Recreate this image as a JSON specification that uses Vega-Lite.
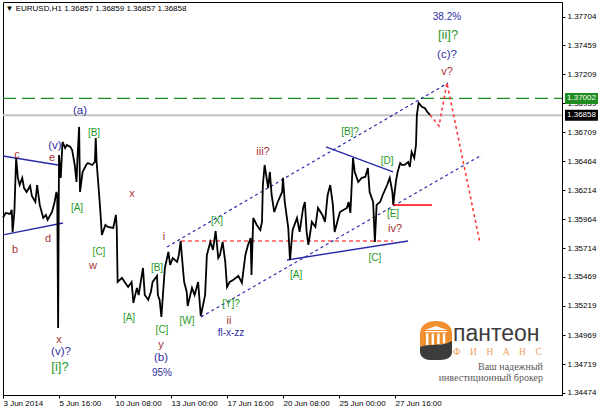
{
  "$schema": "https://vega.github.io/schema/vega-lite/v6.json",
  "width": 559,
  "height": 393,
  "autosize": {"type": "none"},
  "padding": {"left": 3, "top": 2, "right": 38, "bottom": 16},
  "background": "white",
  "config": {"view": {"stroke": "#000", "strokeWidth": 1}, "font": "Liberation Sans"},
  "datasets": {
    "price": [
      {"b":0,"p":1.35975},{"b":3,"p":1.36018},{"b":8,"p":1.36009},{"b":10,"p":1.36044},{"b":11,"p":1.35855},{"b":13,"p":1.36026},{"b":15,"p":1.3649},{"b":17,"p":1.36319},{"b":19,"p":1.36258},{"b":22,"p":1.36319},{"b":24,"p":1.36233},{"b":27,"p":1.36198},{"b":31,"p":1.3625},{"b":33,"p":1.36164},{"b":37,"p":1.36112},{"b":39,"p":1.36258},{"b":42,"p":1.36087},{"b":46,"p":1.35975},{"b":49,"p":1.36001},{"b":51,"p":1.35958},{"b":56,"p":1.36026},{"b":59,"p":1.36112},{"b":61,"p":1.36198},{"b":62,"p":1.36164},{"b":63,"p":1.3503},{"b":64,"p":1.36516},{"b":66,"p":1.36319},{"b":68,"p":1.36628},{"b":71,"p":1.36576},{"b":73,"p":1.36602},{"b":77,"p":1.36585},{"b":79,"p":1.36559},{"b":82,"p":1.3643},{"b":84,"p":1.36284},{"b":85,"p":1.36473},{"b":87,"p":1.36757},{"b":88,"p":1.36198},{"b":91,"p":1.3637},{"b":95,"p":1.3643},{"b":97,"p":1.36447},{"b":102,"p":1.3643},{"b":105,"p":1.36456},{"b":106,"p":1.36662},{"b":107,"p":1.36456},{"b":111,"p":1.36061},{"b":113,"p":1.35829},{"b":117,"p":1.35915},{"b":120,"p":1.35898},{"b":126,"p":1.35889},{"b":129,"p":1.36001},{"b":130,"p":1.35889},{"b":131,"p":1.35425},{"b":136,"p":1.3546},{"b":139,"p":1.35425},{"b":143,"p":1.35382},{"b":147,"p":1.35425},{"b":149,"p":1.35245},{"b":153,"p":1.35374},{"b":155,"p":1.35313},{"b":160,"p":1.35545},{"b":162,"p":1.35313},{"b":166,"p":1.35271},{"b":169,"p":1.35339},{"b":171,"p":1.35425},{"b":176,"p":1.35477},{"b":177,"p":1.35313},{"b":179,"p":1.35271},{"b":181,"p":1.35125},{"b":183,"p":1.35339},{"b":185,"p":1.35545},{"b":189,"p":1.35683},{"b":191,"p":1.35571},{"b":194,"p":1.35631},{"b":199,"p":1.35597},{"b":201,"p":1.35657},{"b":203,"p":1.35777},{"b":205,"p":1.35597},{"b":207,"p":1.35425},{"b":210,"p":1.35339},{"b":211,"p":1.35219},{"b":216,"p":1.35374},{"b":219,"p":1.35313},{"b":223,"p":1.35425},{"b":226,"p":1.35133},{"b":231,"p":1.35313},{"b":233,"p":1.35657},{"b":237,"p":1.35769},{"b":240,"p":1.357},{"b":243,"p":1.35863},{"b":246,"p":1.35631},{"b":248,"p":1.35657},{"b":251,"p":1.35769},{"b":254,"p":1.35597},{"b":256,"p":1.35382},{"b":259,"p":1.35425},{"b":263,"p":1.35442},{"b":269,"p":1.35477},{"b":273,"p":1.35417},{"b":277,"p":1.35657},{"b":280,"p":1.35743},{"b":283,"p":1.35803},{"b":284,"p":1.35485},{"b":286,"p":1.35975},{"b":290,"p":1.35915},{"b":294,"p":1.35872},{"b":296,"p":1.35941},{"b":297,"p":1.36258},{"b":299,"p":1.3643},{"b":303,"p":1.36233},{"b":305,"p":1.3637},{"b":307,"p":1.36172},{"b":310,"p":1.36026},{"b":314,"p":1.36112},{"b":319,"p":1.36198},{"b":320,"p":1.36319},{"b":322,"p":1.36112},{"b":326,"p":1.35889},{"b":328,"p":1.35614},{"b":331,"p":1.35872},{"b":336,"p":1.35975},{"b":339,"p":1.35855},{"b":343,"p":1.36061},{"b":345,"p":1.36112},{"b":347,"p":1.35855},{"b":349,"p":1.35743},{"b":353,"p":1.35941},{"b":357,"p":1.35898},{"b":360,"p":1.36061},{"b":365,"p":1.36001},{"b":368,"p":1.35941},{"b":371,"p":1.36172},{"b":374,"p":1.36258},{"b":377,"p":1.36087},{"b":379,"p":1.35855},{"b":382,"p":1.35941},{"b":385,"p":1.36026},{"b":389,"p":1.36044},{"b":393,"p":1.36061},{"b":395,"p":1.36112},{"b":397,"p":1.36018},{"b":400,"p":1.3649},{"b":402,"p":1.3637},{"b":406,"p":1.36284},{"b":410,"p":1.36319},{"b":414,"p":1.36327},{"b":417,"p":1.36404},{"b":419,"p":1.36198},{"b":423,"p":1.36112},{"b":425,"p":1.35769},{"b":427,"p":1.36087},{"b":431,"p":1.36112},{"b":434,"p":1.36172},{"b":439,"p":1.36258},{"b":442,"p":1.36319},{"b":445,"p":1.36198},{"b":446,"p":1.36087},{"b":449,"p":1.36284},{"b":451,"p":1.3637},{"b":454,"p":1.36447},{"b":456,"p":1.3643},{"b":459,"p":1.3643},{"b":463,"p":1.36456},{"b":465,"p":1.36413},{"b":467,"p":1.36542},{"b":470,"p":1.3649},{"b":472,"p":1.36602},{"b":473,"p":1.3686},{"b":475,"p":1.36963},{"b":479,"p":1.36928},{"b":482,"p":1.3692},{"b":485,"p":1.36885},{"b":488,"p":1.3686}
    ],
    "trend": [
      {"id":"t1","b":0,"p":1.36507},{"id":"t1","b":62.9,"p":1.3643},
      {"id":"t2","b":0,"p":1.35829},{"id":"t2","b":68.6,"p":1.35932},
      {"id":"t3","b":369.1,"p":1.36585},{"id":"t3","b":445.7,"p":1.3637},
      {"id":"t4","b":324.6,"p":1.35614},{"id":"t4","b":462.9,"p":1.35777}
    ],
    "channel": [
      {"id":"c1","b":187.4,"p":1.35726},{"id":"c1","b":508.6,"p":1.37135},
      {"id":"c2","b":226.3,"p":1.35125},{"id":"c2","b":547.4,"p":1.36516}
    ],
    "labels": [
      {"t":"(a)","b":88.0,"p":1.36894,"d":"minute"},
      {"t":"[B]","b":104.0,"p":1.36705,"d":"sub"},
      {"t":"(v)","b":59.4,"p":1.36593,"d":"minute"},
      {"t":"c","b":16.0,"p":1.36516,"d":"minuette"},
      {"t":"e","b":56.0,"p":1.3649,"d":"minuette"},
      {"t":"[A]","b":84.6,"p":1.36061,"d":"sub"},
      {"t":"x","b":147.4,"p":1.36181,"d":"minuette"},
      {"t":"b","b":13.7,"p":1.357,"d":"minuette"},
      {"t":"d","b":51.4,"p":1.35795,"d":"minuette"},
      {"t":"[C]","b":109.7,"p":1.35683,"d":"sub"},
      {"t":"w","b":102.9,"p":1.35563,"d":"minuette"},
      {"t":"[A]","b":144.0,"p":1.35116,"d":"sub"},
      {"t":"x","b":64.0,"p":1.34927,"d":"minuette"},
      {"t":"(v)?","b":66.3,"p":1.34824,"d":"minute"},
      {"t":"[i]?","b":65.1,"p":1.34695,"d":"minor"},
      {"t":"[B]","b":176.0,"p":1.35545,"d":"sub"},
      {"t":"[C]","b":181.7,"p":1.35013,"d":"sub"},
      {"t":"y","b":180.6,"p":1.34884,"d":"minuette"},
      {"t":"(b)","b":180.6,"p":1.34772,"d":"minute"},
      {"t":"95%","b":181.7,"p":1.34643,"d":"note"},
      {"t":"[W]","b":210.3,"p":1.3509,"d":"sub"},
      {"t":"i","b":184.0,"p":1.35812,"d":"minuette"},
      {"t":"[X]","b":244.6,"p":1.35949,"d":"sub"},
      {"t":"[Y]?","b":260.6,"p":1.35236,"d":"sub"},
      {"t":"ii","b":258.3,"p":1.3509,"d":"minuette"},
      {"t":"fl-x-zz","b":260.6,"p":1.34987,"d":"note"},
      {"t":"iii?","b":297.1,"p":1.36542,"d":"minuette"},
      {"t":"[A]","b":334.9,"p":1.35485,"d":"sub"},
      {"t":"[B]?","b":396.6,"p":1.36714,"d":"sub"},
      {"t":"[D]","b":438.9,"p":1.36465,"d":"sub"},
      {"t":"[E]","b":445.7,"p":1.36009,"d":"sub"},
      {"t":"iv?","b":448.0,"p":1.3588,"d":"minuette"},
      {"t":"[C]","b":425.1,"p":1.35631,"d":"sub"},
      {"t":"38.2%","b":507.4,"p":1.37701,"d":"note"},
      {"t":"[ii]?","b":508.6,"p":1.37547,"d":"minor"},
      {"t":"(c)?","b":507.4,"p":1.37375,"d":"minute"},
      {"t":"v?","b":507.4,"p":1.37229,"d":"minuette"}
    ]
  },
  "encoding": {
    "x": {
      "field": "b", "type": "quantitative",
      "scale": {"domain": [0, 638.857], "nice": false, "zero": false},
      "axis": {
        "orient": "bottom", "values": [0, 64, 128, 192, 256, 320, 384, 448],
        "labelExpr": "['3 Jun 2014','5 Jun 16:00','10 Jun 08:00','13 Jun 00:00','17 Jun 16:00','20 Jun 08:00','25 Jun 00:00','27 Jun 16:00'][round(datum.value/64)]",
        "labelAlign": "left", "labelDx": -1, "labelFlush": false, "labelOverlap": false,
        "labelFont": "Liberation Sans", "labelFontSize": 8, "labelColor": "#000", "labelPadding": 1,
        "tickSize": 3, "tickColor": "#000", "domainColor": "#000", "grid": false, "title": null
      }
    },
    "y": {
      "field": "p", "type": "quantitative",
      "scale": {"domain": [1.34454, 1.3783], "nice": false, "zero": false},
      "axis": {
        "orient": "right",
        "values": [1.37704, 1.37459, 1.37209, 1.36959, 1.36709, 1.36464, 1.36214, 1.35964, 1.35714, 1.35469, 1.35219, 1.34969, 1.34719, 1.34474],
        "format": ".5f", "labelFont": "Liberation Sans", "labelFontSize": 8, "labelColor": "#000",
        "labelPadding": 2, "tickSize": 3, "tickColor": "#000", "domainColor": "#000",
        "grid": false, "title": null, "labelOverlap": false, "labelFlush": false
      }
    }
  },
  "layer": [
    {
      "data": {"values": [{"b": 0, "p": 1.36858}, {"b": 638.857, "p": 1.36858}]},
      "mark": {"type": "line", "color": "#c4c4c4", "strokeWidth": 2}
    },
    {
      "data": {"values": [{"b": 0, "p": 1.37002}, {"b": 638.857, "p": 1.37002}]},
      "mark": {"type": "line", "color": "#1e8c1e", "strokeWidth": 1.3, "strokeDash": [13, 6]}
    },
    {
      "data": {"values": [{"b": 203.4, "p": 1.35777}, {"b": 445.7, "p": 1.35777}]},
      "mark": {"type": "line", "color": "#ff0000", "strokeWidth": 1.2, "strokeDash": [4, 3]}
    },
    {
      "data": {"name": "trend"},
      "mark": {"type": "line", "color": "#2a2aa8", "strokeWidth": 1.4},
      "encoding": {"detail": {"field": "id"}}
    },
    {
      "data": {"name": "channel"},
      "mark": {"type": "line", "color": "#2a2aa8", "strokeWidth": 1.2, "strokeDash": [3, 3]},
      "encoding": {"detail": {"field": "id"}}
    },
    {
      "data": {"name": "price"},
      "mark": {"type": "line", "color": "#000", "strokeWidth": 1.8, "strokeJoin": "miter"}
    },
    {
      "data": {"values": [{"b": 445.7, "p": 1.36087}, {"b": 490.3, "p": 1.36087}]},
      "mark": {"type": "line", "color": "#ff0000", "strokeWidth": 1.5}
    },
    {
      "data": {"values": [{"b": 488, "p": 1.3686}, {"b": 498.3, "p": 1.36765}, {"b": 507.4, "p": 1.37135}, {"b": 545.1, "p": 1.3576}]},
      "mark": {"type": "line", "color": "#ff3030", "strokeWidth": 1.5, "strokeDash": [3, 3]}
    },
    {
      "data": {"name": "labels"},
      "mark": {"type": "text", "align": "center", "baseline": "middle", "font": "Liberation Sans"},
      "encoding": {
        "text": {"field": "t"},
        "color": {"field": "d", "type": "nominal", "legend": null,
          "scale": {"domain": ["minor", "minute", "minuette", "sub", "note"], "range": ["#1f9a1f", "#2e2e9e", "#a83232", "#1f9a1f", "#2e2e9e"]}},
        "size": {"field": "d", "type": "nominal", "legend": null,
          "scale": {"type": "ordinal", "domain": ["minor", "minute", "minuette", "sub", "note"], "range": [13, 11.5, 11, 10, 10]}}
      }
    },
    {
      "data": {"values": [{"t": "▼ EURUSD,H1  1.36857 1.36859 1.36857 1.36858", "b": 2.9, "p": 1.3777}]},
      "mark": {"type": "text", "align": "left", "baseline": "middle", "font": "Liberation Sans", "fontSize": 8, "color": "#000"},
      "encoding": {"text": {"field": "t"}}
    },
    {
      "data": {"values": [{"b": 494.9, "p": 1.34927}]},
      "mark": {"type": "point", "shape": "M-0.8,0.35 L-0.8,-0.3 C-0.8,-0.75 -0.45,-0.95 0,-0.95 C0.45,-0.95 0.8,-0.75 0.8,-0.3 L0.8,0.15 Z", "filled": true, "color": "#ef8f2f", "size": 1600, "strokeWidth": 0, "opacity": 1}
    },
    {
      "data": {"values": [{"b": 494.9, "p": 1.34927}]},
      "mark": {"type": "point", "shape": "M-0.55,-0.5 L0,-0.7 L0.55,-0.5 Z M-0.55,-0.45 H0.55 V-0.38 H-0.55 Z M-0.5,-0.32 H-0.38 V0.28 H-0.5 Z M-0.22,-0.32 H-0.1 V0.24 H-0.22 Z M0.06,-0.32 H0.18 V0.2 H0.06 Z M0.34,-0.32 H0.46 V0.16 H0.34 Z", "filled": true, "color": "#ffffff", "size": 1600, "strokeWidth": 0, "opacity": 1}
    },
    {
      "data": {"values": [{"b": 494.9, "p": 1.34927}]},
      "mark": {"type": "point", "shape": "M-0.8,0.35 C-0.3,0.15 0.3,0.35 0.8,0.05 L0.8,0.6 C0.8,0.85 0.55,1 0.2,1 L-0.3,1 C-0.6,1 -0.8,0.8 -0.8,0.6 Z", "filled": true, "color": "#3c3c3c", "size": 1600, "strokeWidth": 0, "opacity": 1}
    },
    {
      "data": {"values": [{"t": "пантеон", "b": 514.3, "p": 1.34915}]},
      "mark": {"type": "text", "align": "left", "baseline": "alphabetic", "font": "Liberation Sans", "fontSize": 23, "color": "#3c3c3c"},
      "encoding": {"text": {"field": "t"}}
    },
    {
      "data": {"values": [{"t": "Ф\u00a0\u00a0\u00a0\u00a0И\u00a0\u00a0\u00a0\u00a0Н\u00a0\u00a0\u00a0\u00a0А\u00a0\u00a0\u00a0\u00a0Н\u00a0\u00a0\u00a0\u00a0С", "b": 514.3, "p": 1.34822}]},
      "mark": {"type": "text", "align": "left", "baseline": "middle", "font": "Liberation Serif", "fontSize": 9.5, "color": "#f0a060"},
      "encoding": {"text": {"field": "t"}}
    },
    {
      "data": {"values": [{"t": "Ваш надежный", "b": 617.1, "p": 1.34695}, {"t": "инвестиционный брокер", "b": 617.1, "p": 1.34601}]},
      "mark": {"type": "text", "align": "right", "baseline": "middle", "font": "Liberation Serif", "fontSize": 10, "color": "#5a5a5a"},
      "encoding": {"text": {"field": "t"}}
    },
    {
      "data": {"values": [{"t": "1.37002", "b": 661.1, "p": 1.37002}]},
      "mark": {"type": "point", "shape": "M-1,-0.333 H1 V0.333 H-1 Z", "filled": true, "color": "#1e8c1e", "size": 1089, "strokeWidth": 0, "opacity": 1, "clip": false}
    },
    {
      "data": {"values": [{"t": "1.36858", "b": 661.1, "p": 1.36858}]},
      "mark": {"type": "point", "shape": "M-1,-0.333 H1 V0.333 H-1 Z", "filled": true, "color": "#000000", "size": 1089, "strokeWidth": 0, "opacity": 1, "clip": false}
    },
    {
      "data": {"values": [{"t": "1.37002", "b": 661.1, "p": 1.37002}, {"t": "1.36858", "b": 661.1, "p": 1.36858}]},
      "mark": {"type": "text", "align": "center", "baseline": "middle", "font": "Liberation Sans", "fontSize": 8, "color": "#ffffff", "clip": false},
      "encoding": {"text": {"field": "t"}}
    }
  ]
}
